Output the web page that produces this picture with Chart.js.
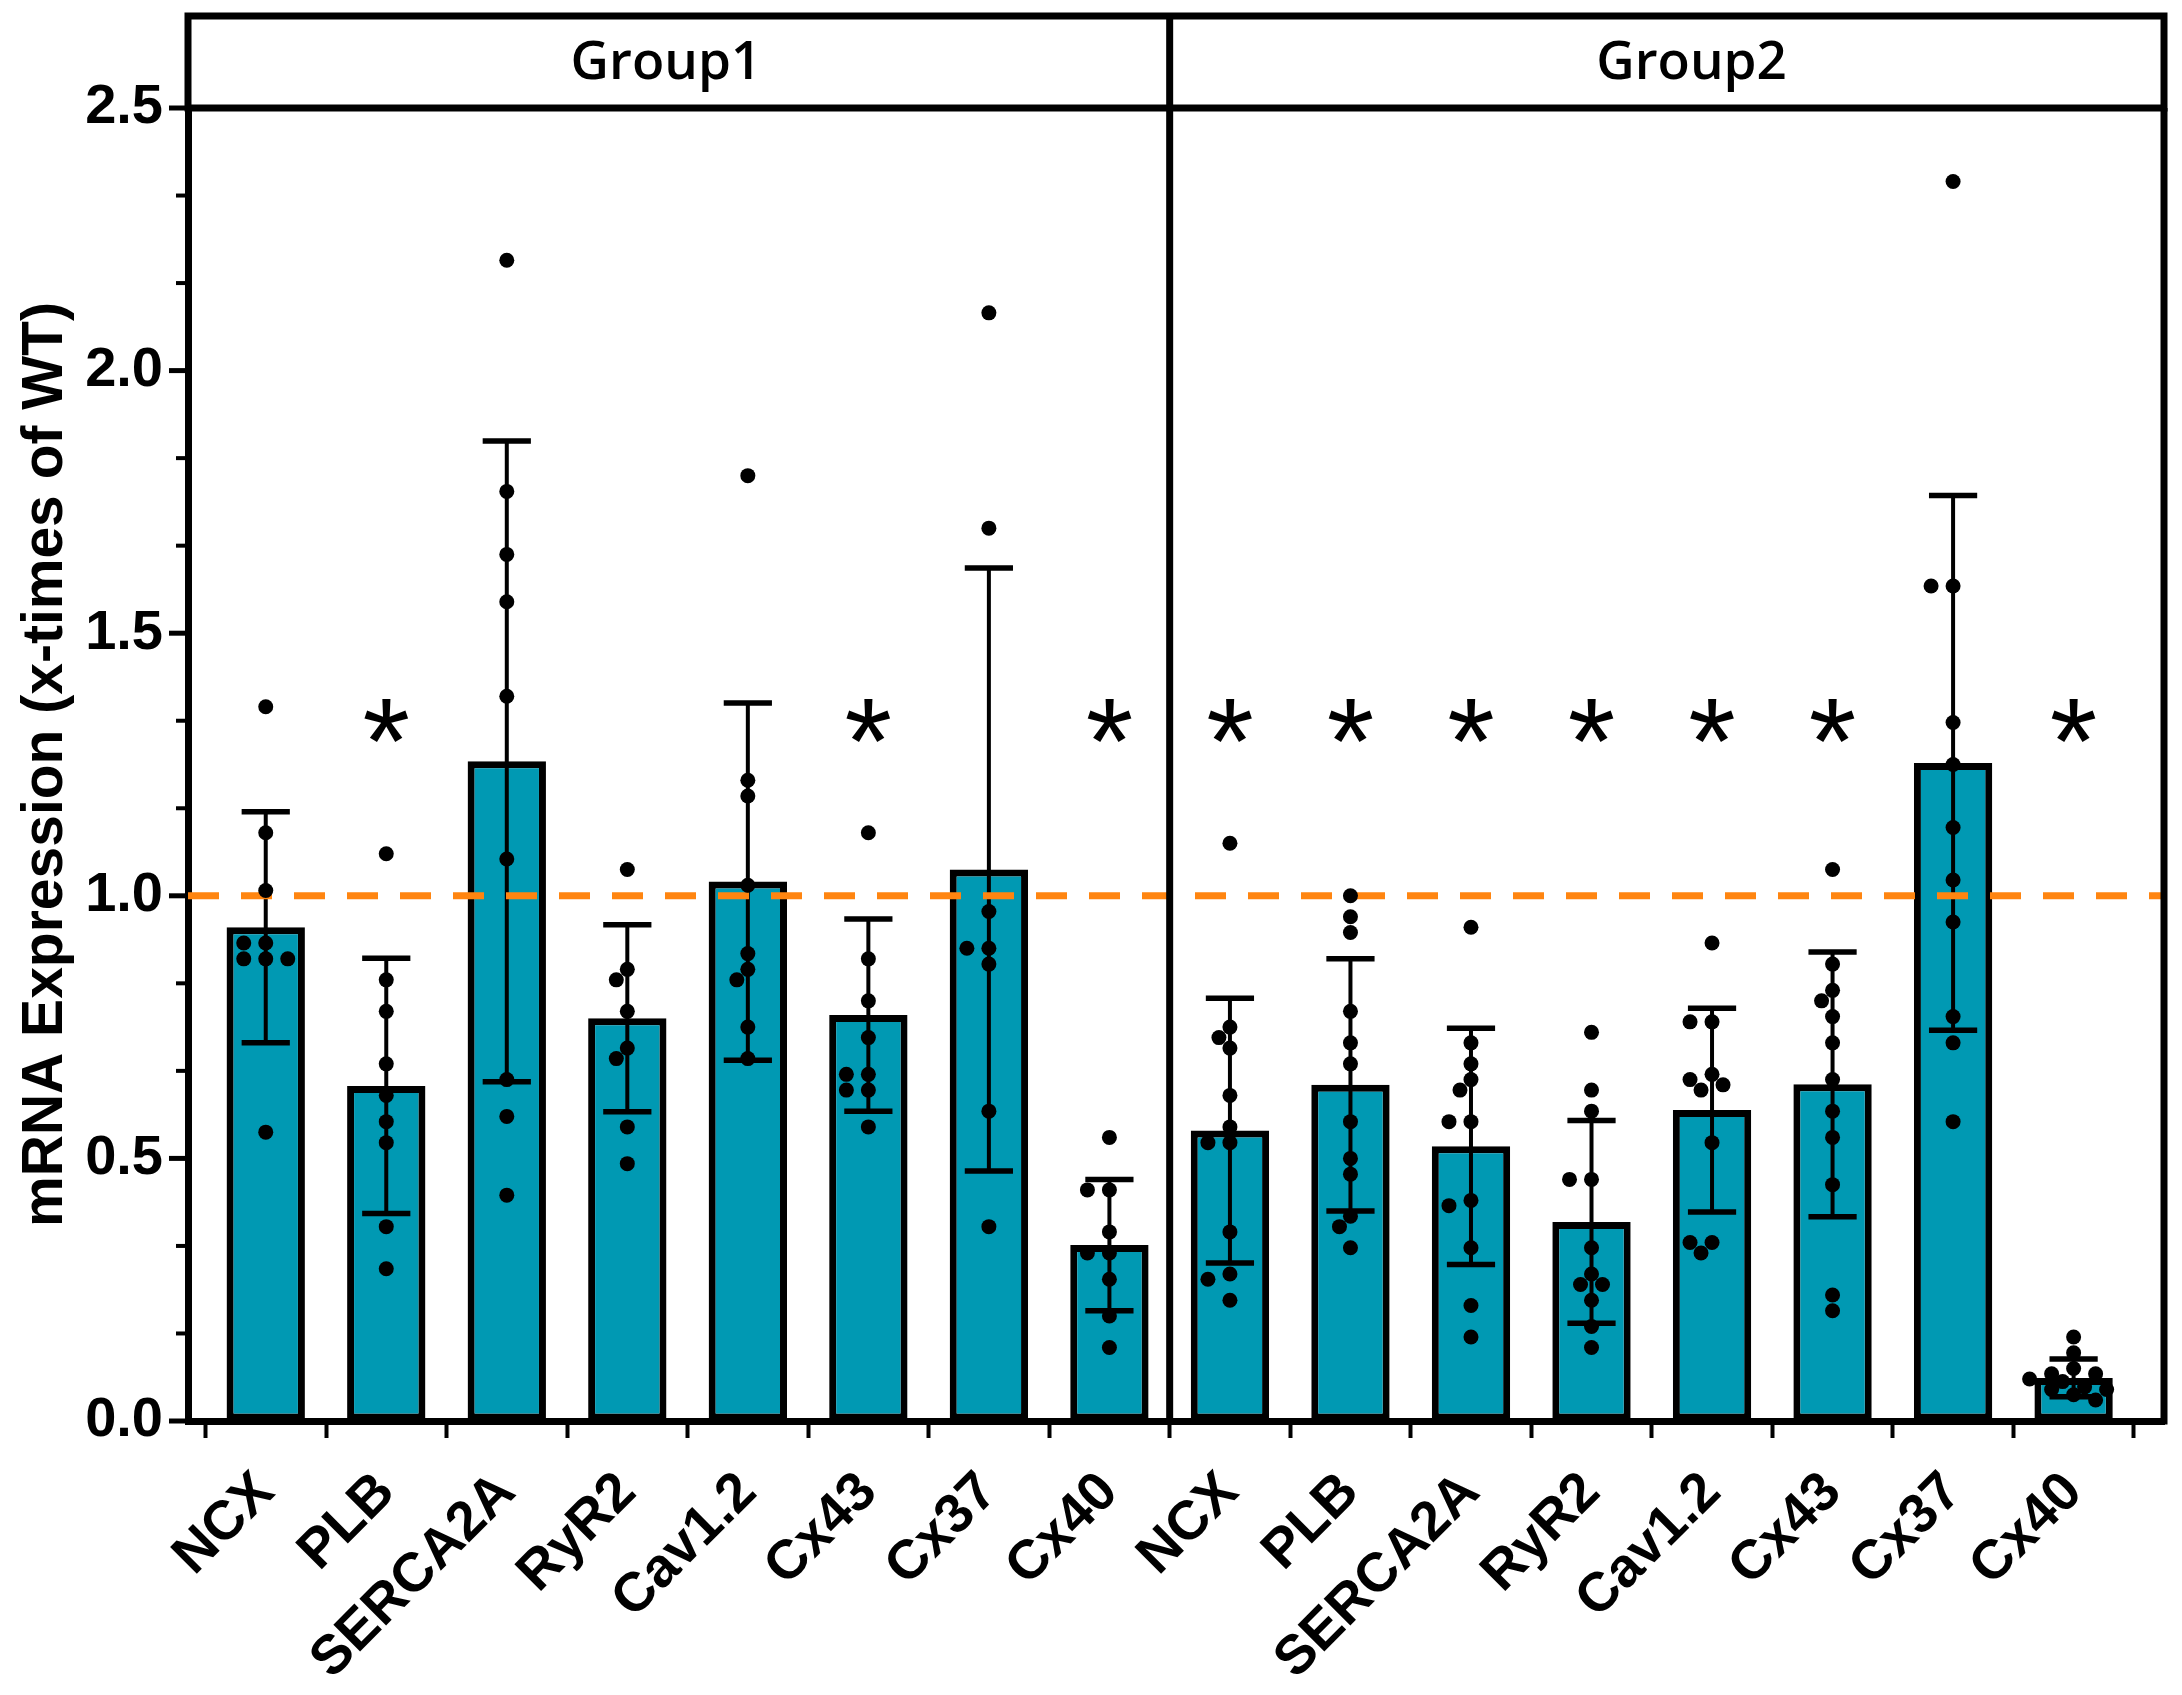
<!DOCTYPE html>
<html><head><meta charset="utf-8">
<script src="https://cdn.jsdelivr.net/npm/chart.js@4.4.0/dist/chart.umd.min.js"></script>
<style>html,body{margin:0;padding:0;background:#fff;}canvas{display:block;}</style>
</head><body>
<canvas id="c" width="2182" height="1695"></canvas>
<script>
// ---------------- data ----------------
const categories = ['NCX','PLB','SERCA2A','RyR2','Cav1.2','Cx43','Cx37','Cx40',
                    'NCX','PLB','SERCA2A','RyR2','Cav1.2','Cx43','Cx37','Cx40'];
const groupNames = ['Group1','Group2'];
const means = [0.94, 0.638, 1.256, 0.767, 1.027, 0.773, 1.05, 0.335,
               0.553, 0.64, 0.523, 0.379, 0.592, 0.641, 1.253, 0.082];
const sds   = [0.22, 0.243, 0.61, 0.178, 0.34, 0.183, 0.574, 0.125,
               0.252, 0.24, 0.225, 0.193, 0.194, 0.252, 0.509, 0.036];
const dotValues = [
  [1.36, 1.12, 1.01, 0.91, 0.91, 0.88, 0.88, 0.88, 0.55],
  [1.08, 0.84, 0.78, 0.68, 0.62, 0.57, 0.53, 0.37, 0.29],
  [2.21, 1.77, 1.65, 1.56, 1.38, 1.07, 0.65, 0.58, 0.43],
  [1.05, 0.86, 0.84, 0.78, 0.71, 0.69, 0.56, 0.49],
  [1.80, 1.22, 1.19, 1.02, 0.89, 0.86, 0.84, 0.75, 0.69],
  [1.12, 0.88, 0.80, 0.73, 0.66, 0.66, 0.63, 0.63, 0.56],
  [2.11, 1.70, 0.97, 0.90, 0.90, 0.87, 0.59, 0.37],
  [0.54, 0.44, 0.44, 0.36, 0.32, 0.32, 0.27, 0.20, 0.14],
  [1.10, 0.75, 0.73, 0.71, 0.62, 0.56, 0.53, 0.53, 0.36, 0.28, 0.27, 0.23],
  [1.00, 0.96, 0.93, 0.78, 0.72, 0.68, 0.57, 0.50, 0.47, 0.39, 0.37, 0.33],
  [0.94, 0.72, 0.68, 0.65, 0.63, 0.57, 0.57, 0.42, 0.41, 0.33, 0.22, 0.16],
  [0.74, 0.63, 0.59, 0.46, 0.46, 0.33, 0.28, 0.26, 0.26, 0.23, 0.18, 0.14],
  [0.91, 0.76, 0.76, 0.66, 0.65, 0.64, 0.63, 0.53, 0.34, 0.34, 0.32],
  [1.05, 0.87, 0.82, 0.80, 0.77, 0.72, 0.65, 0.59, 0.54, 0.45, 0.24, 0.21],
  [2.36, 1.59, 1.59, 1.33, 1.25, 1.13, 1.03, 0.95, 0.77, 0.72, 0.57],
  [0.16, 0.13, 0.10, 0.09, 0.09, 0.08, 0.075, 0.065, 0.06, 0.06, 0.05, 0.04]
];
const significant = [false,true,false,false,false,true,false,true,
                     true,true,true,true,true,true,false,true];
const starLevel = 1.35;
const referenceLevel = 1.0;
const yTickLabels = ['0.0','0.5','1.0','1.5','2.0','2.5'];

// ---------------- layout / style ----------------
const W = 2182, H = 1695;
const PLOT_LEFT = 188, PLOT_RIGHT = 2164, PLOT_TOP = 108, PLOT_BOTTOM = 1421, HEADER_TOP = 16;
const X_MIN = -0.645, X_MAX = 15.75;
const GROUP_DIVIDER = 7.5;
const GROUP_LABEL_POS = [3.32, 11.83];
const BAR_COLOR = '#0099B3';
const LINE_W = 7;
const FONT = 'Liberation Sans';
const PX_PER_CAT = (PLOT_RIGHT - PLOT_LEFT) / (X_MAX - X_MIN);
const PX_PER_UNIT = (PLOT_BOTTOM - PLOT_TOP) / 2.5;
const DOT_R = 7.5;
const STAR_SIZE = 122;

// beeswarm-like horizontal spreading of overlapping dots (in category units)
function swarm(values, center) {
  const placed = [];
  const sorted = values.slice().sort((a, b) => b - a);
  const D = 13.5, STEP = 11;
  const cands = [0];
  for (let k = 1; k < 12; k++) { cands.push(-k * STEP, k * STEP); }
  sorted.forEach(v => {
    const py = v * PX_PER_UNIT;
    let chosen = 0;
    for (const c of cands) {
      if (placed.every(p => Math.hypot(p.px - c, p.py - py) >= D)) { chosen = c; break; }
    }
    placed.push({px: chosen, py, v});
  });
  return placed.map(p => ({x: center + p.px / PX_PER_CAT, y: p.v}));
}
const dotPoints = [];
dotValues.forEach((vals, i) => dotPoints.push(...swarm(vals, i)));

const decorPlugin = {
  id: 'decor',
  afterDatasetDraw(chart, args) {
    if (args.index !== 0) return;
    const ctx = chart.ctx, x = chart.scales.x, y = chart.scales.y;
    ctx.save();
    ctx.strokeStyle = '#000';
    means.forEach((m, i) => {
      const cx = x.getPixelForValue(i);
      const half = 0.2 * PX_PER_CAT;
      const yt = y.getPixelForValue(m + sds[i]);
      const yb = y.getPixelForValue(Math.max(0, m - sds[i]));
      ctx.lineWidth = 4;
      ctx.beginPath(); ctx.moveTo(cx, yt); ctx.lineTo(cx, yb); ctx.stroke();
      ctx.lineWidth = 5.5;
      ctx.beginPath();
      ctx.moveTo(cx - half, yt); ctx.lineTo(cx + half, yt);
      ctx.moveTo(cx - half, yb); ctx.lineTo(cx + half, yb);
      ctx.stroke();
    });
    ctx.restore();
  },
  afterDraw(chart) {
    const ctx = chart.ctx, x = chart.scales.x, y = chart.scales.y, a = chart.chartArea;
    ctx.save();
    ctx.strokeStyle = '#000';
    // y tick marks (major every 0.5, minor in between)
    y.ticks.forEach((t, idx) => {
      const py = y.getPixelForValue(t.value);
      const major = idx % 3 === 0;
      ctx.lineWidth = major ? 5 : 4;
      ctx.beginPath();
      ctx.moveTo(a.left - (major ? 19 : 12), py);
      ctx.lineTo(a.left, py);
      ctx.stroke();
    });
    ctx.lineWidth = LINE_W;
    // header box
    ctx.strokeRect(a.left, HEADER_TOP, a.right - a.left, a.top - HEADER_TOP);
    // right border
    ctx.beginPath(); ctx.moveTo(a.right, a.top); ctx.lineTo(a.right, a.bottom + LINE_W / 2); ctx.stroke();
    // divider
    const dx = x.getPixelForValue(GROUP_DIVIDER);
    ctx.beginPath(); ctx.moveTo(dx, HEADER_TOP); ctx.lineTo(dx, a.bottom); ctx.stroke();
    // group labels
    ctx.fillStyle = '#000';
    ctx.font = '600 53px "Open Sans"';
    ctx.textAlign = 'center';
    ctx.textBaseline = 'middle';
    groupNames.forEach((g, k) => {
      ctx.fillText(g, x.getPixelForValue(GROUP_LABEL_POS[k]), (HEADER_TOP + a.top) / 2 + 2);
    });
    // significance stars (glyph centred on starLevel)
    ctx.font = STAR_SIZE + 'px "' + FONT + '"';
    ctx.textBaseline = 'alphabetic';
    significant.forEach((s, i) => {
      if (!s) return;
      ctx.fillText('*', x.getPixelForValue(i), y.getPixelForValue(starLevel) + 0.58 * STAR_SIZE);
    });
    ctx.restore();
  }
};

new Chart(document.getElementById('c'), {
  type: 'bar',
  data: {
    datasets: [
      { type: 'bar', data: means.map((v, i) => ({x: i, y: v})),
        backgroundColor: BAR_COLOR, borderColor: '#000', borderWidth: 7, borderSkipped: false,
        barPercentage: 0.65, categoryPercentage: 1, order: 3 },
      { type: 'line', data: [{x: X_MIN, y: referenceLevel}, {x: X_MAX, y: referenceLevel}],
        borderColor: '#FF8510', borderWidth: 7, borderDash: [31, 22], pointRadius: 0, fill: false, order: 2 },
      { type: 'scatter', data: dotPoints, pointRadius: DOT_R, pointHoverRadius: DOT_R,
        backgroundColor: '#000', borderWidth: 0, order: 1 }
    ]
  },
  options: {
    responsive: false, animation: false, devicePixelRatio: 1,
    layout: { padding: { top: PLOT_TOP, right: W - PLOT_RIGHT, left: 0, bottom: 0 } },
    plugins: { legend: { display: false }, tooltip: { enabled: false } },
    scales: {
      x: {
        type: 'linear', min: X_MIN, max: X_MAX, offset: false,
        afterBuildTicks: s => { s.ticks = categories.map((_, i) => ({value: i})); },
        afterFit: s => { s.height = H - PLOT_BOTTOM; },
        ticks: { autoSkip: false, minRotation: 45, maxRotation: 45, padding: 22, color: '#000',
          font: { family: FONT, weight: 'bold', size: 55 },
          callback: (v) => categories[Math.round(v)] },
        grid: { drawOnChartArea: false, drawTicks: true, tickLength: 17, tickWidth: 4, tickColor: '#000' },
        border: { display: true, color: '#000', width: LINE_W }
      },
      y: {
        type: 'linear', min: 0, max: 2.5,
        afterBuildTicks: s => { s.ticks = Array.from({length: 16}, (_, k) => ({value: k / 6})); },
        afterFit: s => { s.width = PLOT_LEFT; },
        ticks: { autoSkip: false, padding: 25, color: '#000',
          font: { family: FONT, weight: 'bold', size: 56 },
          callback: (v, idx) => idx % 3 === 0 ? yTickLabels[idx / 3] : '' },
        grid: { drawOnChartArea: false, drawTicks: false },
        border: { display: true, color: '#000', width: LINE_W },
        title: { display: true, text: 'mRNA Expression (x-times of WT)', color: '#000',
          font: { family: FONT, weight: 'bold', size: 57 }, padding: { top: 12, bottom: 0 } }
      }
    }
  },
  plugins: [decorPlugin]
});
</script>
</body></html>
